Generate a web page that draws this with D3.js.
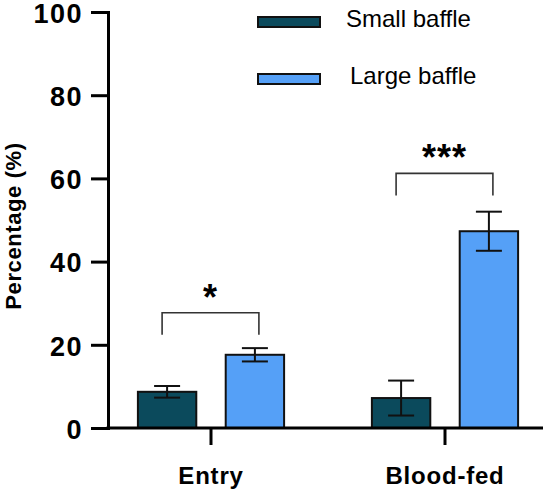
<!DOCTYPE html>
<meta charset="utf-8">
<style>
body { margin: 0; background: #fff; }
svg text { font-family: "Liberation Sans", Arial, sans-serif; }
</style>
<body>
<script src="https://d3js.org/d3.v7.min.js"></script>
<script>

// data
var groups = ["Entry", "Blood-fed"];
var seriesNames = ["Small baffle", "Large baffle"];
var smallMean = [8.7, 7.2];
var smallErr = [1.4, 4.2];
var largeMean = [17.6, 47.3];
var largeErr = [1.6, 4.7];
var sigLabels = ["*", "***"];
var sigLevel = [27.7, 61.2];   // bracket top, in %
var yTicks = [0, 20, 40, 60, 80, 100];

var colors = ["#0b4a5c", "#55a0f7"];

var width = 550, height = 490;
var x0 = 108, y0 = 428;

var svg = d3.select("body").append("svg")
    .attr("width", width)
    .attr("height", height);

var y = d3.scaleLinear().domain([0, 100]).range([y0, 12]);
var x = d3.scaleBand().domain(groups).range([94, 562]).padding(0);
var xs = d3.scaleBand().domain(seriesNames).range([0, x.bandwidth()]).paddingInner(0.335).paddingOuter(0.5);

// bars
var rows = [];
groups.forEach(function(g, i) {
  rows.push({g: g, s: seriesNames[0], m: smallMean[i], e: smallErr[i], c: colors[0]});
  rows.push({g: g, s: seriesNames[1], m: largeMean[i], e: largeErr[i], c: colors[1]});
});

svg.append("g").selectAll("rect")
    .data(rows)
  .enter().append("rect")
    .attr("x", function(d) { return x(d.g) + xs(d.s); })
    .attr("y", function(d) { return y(d.m); })
    .attr("width", xs.bandwidth())
    .attr("height", function(d) { return y0 - y(d.m); })
    .style("fill", function(d) { return d.c; })
    .style("stroke", "#111")
    .style("stroke-width", 2);

// error bars
var eb = svg.append("g").selectAll("g").data(rows).enter().append("g")
    .attr("transform", function(d) { return "translate(" + (x(d.g) + xs(d.s) + xs.bandwidth() / 2) + ",0)"; });
eb.append("line")
    .attr("y1", function(d) { return y(d.m + d.e); })
    .attr("y2", function(d) { return y(d.m - d.e); })
    .style("stroke", "#111").style("stroke-width", 2);
eb.append("line")
    .attr("x1", -13).attr("x2", 13)
    .attr("y1", function(d) { return y(d.m + d.e); })
    .attr("y2", function(d) { return y(d.m + d.e); })
    .style("stroke", "#111").style("stroke-width", 2);
eb.append("line")
    .attr("x1", -13).attr("x2", 13)
    .attr("y1", function(d) { return y(d.m - d.e); })
    .attr("y2", function(d) { return y(d.m - d.e); })
    .style("stroke", "#111").style("stroke-width", 2);

// significance brackets
groups.forEach(function(g, i) {
  var xa = x(g) + xs(seriesNames[0]) + xs.bandwidth() / 2 - 5;
  var xb = x(g) + xs(seriesNames[1]) + xs.bandwidth() / 2 + 4;
  var top = y(sigLevel[i]);
  svg.append("path")
      .attr("d", "M" + xa + "," + (top + 22) + "V" + top + "H" + xb + "V" + (top + 22))
      .style("fill", "none")
      .style("stroke", "#333")
      .style("stroke-width", 1.6);
  svg.append("text")
      .attr("x", (xa + xb) / 2)
      .attr("y", top - 3)
      .attr("text-anchor", "middle")
      .style("font-size", "36px")
      .style("font-weight", "bold")
      .style("letter-spacing", "1px")
      .text(sigLabels[i]);
});

// y axis
var yAxis = svg.append("g")
    .attr("transform", "translate(" + x0 + ",0)")
    .call(d3.axisLeft(y).tickValues(yTicks).tickSize(17).tickPadding(8));
yAxis.select(".domain").style("stroke-width", 3);
yAxis.selectAll(".tick line").style("stroke-width", 3);
yAxis.selectAll(".tick text")
    .style("font-size", "27px")
    .style("font-weight", "bold")
    .style("letter-spacing", "1.5px")
    .attr("dy", "0.38em");

// x axis
var xAxis = svg.append("g")
    .attr("transform", "translate(0," + y0 + ")")
    .call(d3.axisBottom(x).tickSize(17).tickSizeOuter(0).tickPadding(22));
xAxis.select(".domain").attr("d", "M" + (x0 - 1.5) + ",0H543").style("stroke-width", 3);
xAxis.selectAll(".tick line").style("stroke-width", 3);
xAxis.selectAll(".tick text")
    .style("font-size", "24px")
    .style("font-weight", "bold")
    .style("letter-spacing", "0.8px");

// y label
svg.append("text")
    .attr("transform", "translate(21," + 226 + ") rotate(-90)")
    .attr("text-anchor", "middle")
    .style("font-size", "22px")
    .style("font-weight", "bold")
    .style("letter-spacing", "0.6px")
    .text("Percentage (%)");

// legend
var legend = svg.append("g").selectAll("g")
    .data(seriesNames)
  .enter().append("g")
    .attr("transform", function(d, i) { return "translate(258," + (17 + i * 57) + ")"; });
legend.append("rect")
    .attr("width", 62).attr("height", 10)
    .style("fill", function(d, i) { return colors[i]; })
    .style("stroke", "#111").style("stroke-width", 2);
legend.append("text")
    .attr("x", function(d, i) { return 88 + i * 4; })
    .attr("y", 10)
    .style("font-size", "24px")
    .text(function(d) { return d; });

</script>
</body>
